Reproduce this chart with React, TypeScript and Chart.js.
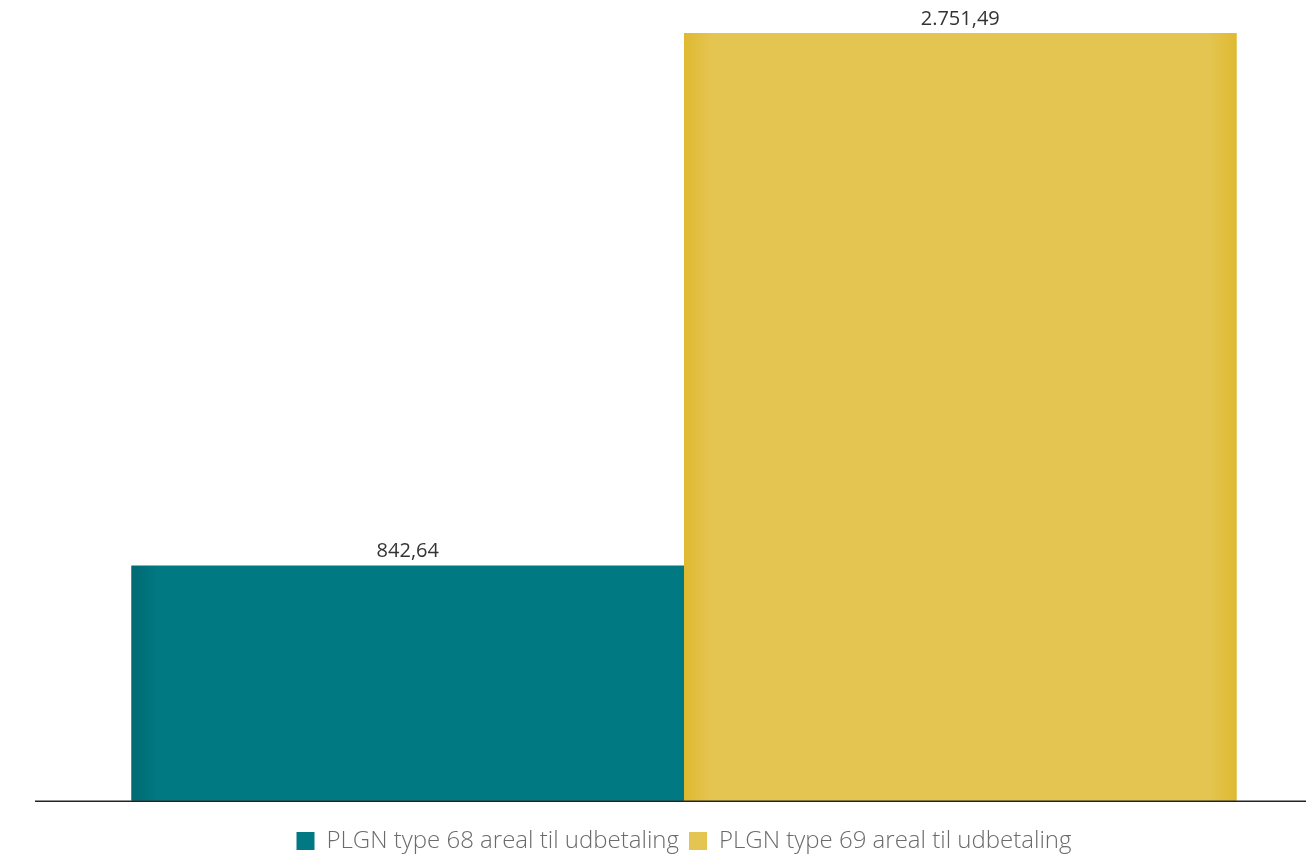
import React, { useEffect, useRef } from "react";
import { Chart, registerables } from "chart.js";

Chart.register(...registerables);

const categories: string[] = [""];
const seriesNames: string[] = [
  "PLGN type 68 areal til udbetaling",
  "PLGN type 69 areal til udbetaling",
];
const type68Values: number[] = [842.64];
const type69Values: number[] = [2751.49];
const yMax = 2751.49;

const TEAL = "#017983";
const TEAL_EDGE = "#006a72";
const YELLOW = "#e4c551";
const YELLOW_EDGE = "#dfb930";

function formatDa(v: number): string {
  const [intPart, dec] = v.toFixed(2).split(".");
  const withSep = intPart.replace(/\B(?=(\d{3})+(?!\d))/g, ".");
  return withSep + "," + dec;
}

const barShadingPlugin = {
  id: "barShading",
  afterDatasetsDraw(chart: any) {
    const ctx = chart.ctx as CanvasRenderingContext2D;
    chart.data.datasets.forEach((ds: any, di: number) => {
      const meta = chart.getDatasetMeta(di);
      meta.data.forEach((el: any) => {
        const left = el.x - el.width / 2;
        const right = el.x + el.width / 2;
        const top = Math.min(el.y, el.base);
        const h = Math.abs(el.base - el.y);
        const g = ctx.createLinearGradient(left, 0, right, 0);
        if (di === 0) {
          g.addColorStop(0, TEAL_EDGE);
          g.addColorStop(0.05, TEAL);
          g.addColorStop(1, TEAL);
        } else {
          g.addColorStop(0, YELLOW_EDGE);
          g.addColorStop(0.05, YELLOW);
          g.addColorStop(0.95, YELLOW);
          g.addColorStop(1, YELLOW_EDGE);
        }
        ctx.save();
        ctx.fillStyle = g;
        ctx.fillRect(left, top, right - left, h);
        ctx.restore();
      });
    });
  },
  afterDraw(chart: any) {
    const ctx = chart.ctx as CanvasRenderingContext2D;
    const area = chart.chartArea;
    ctx.save();
    ctx.strokeStyle = "#222222";
    ctx.lineWidth = 1.5;
    ctx.beginPath();
    ctx.moveTo(35, area.bottom + 0.5);
    ctx.lineTo(chart.width, area.bottom + 0.5);
    ctx.stroke();
    ctx.fillStyle = "#333333";
    ctx.font = "400 20px 'Open Sans', sans-serif";
    ctx.textAlign = "center";
    ctx.textBaseline = "bottom";
    chart.data.datasets.forEach((ds: any, di: number) => {
      const meta = chart.getDatasetMeta(di);
      meta.data.forEach((el: any, i: number) => {
        ctx.fillText(formatDa(ds.data[i]), el.x, el.y - 4);
      });
    });
    ctx.restore();
  },
};

export default function App() {
  const canvasRef = useRef<HTMLCanvasElement | null>(null);

  useEffect(() => {
    document.body.style.margin = "0";
    const canvas = canvasRef.current;
    if (!canvas) return;
    const chart = new Chart(canvas, {
      type: "bar",
      data: {
        labels: categories,
        datasets: [
          {
            label: seriesNames[0],
            data: type68Values,
            backgroundColor: TEAL,
            borderWidth: 0,
          },
          {
            label: seriesNames[1],
            data: type69Values,
            backgroundColor: YELLOW,
            borderWidth: 0,
          },
        ],
      },
      options: {
        responsive: false,
        animation: false,
        layout: { padding: { left: 62, right: 0, top: 33, bottom: -6 } },
        datasets: {
          bar: { categoryPercentage: 1105 / 1244, barPercentage: 1 },
        },
        scales: {
          x: { display: false, grid: { display: false } },
          y: { display: false, min: 0, max: yMax },
        },
        plugins: {
          legend: {
            position: "bottom",
            title: {
              display: true,
              text: " ",
              font: { size: 1 },
              padding: { top: 0, bottom: 17 },
            },
            labels: {
              boxWidth: 18,
              boxHeight: 18,
              padding: 10,
              color: "#6b6b6b",
              font: { family: "Open Sans", size: 24, weight: "300" },
            },
          },
          tooltip: { enabled: false },
        },
      },
      plugins: [barShadingPlugin],
    });
    return () => chart.destroy();
  }, []);

  return (
    <div style={{ width: 1306, height: 857 }}>
      <canvas ref={canvasRef} width={1306} height={857} />
    </div>
  );
}
